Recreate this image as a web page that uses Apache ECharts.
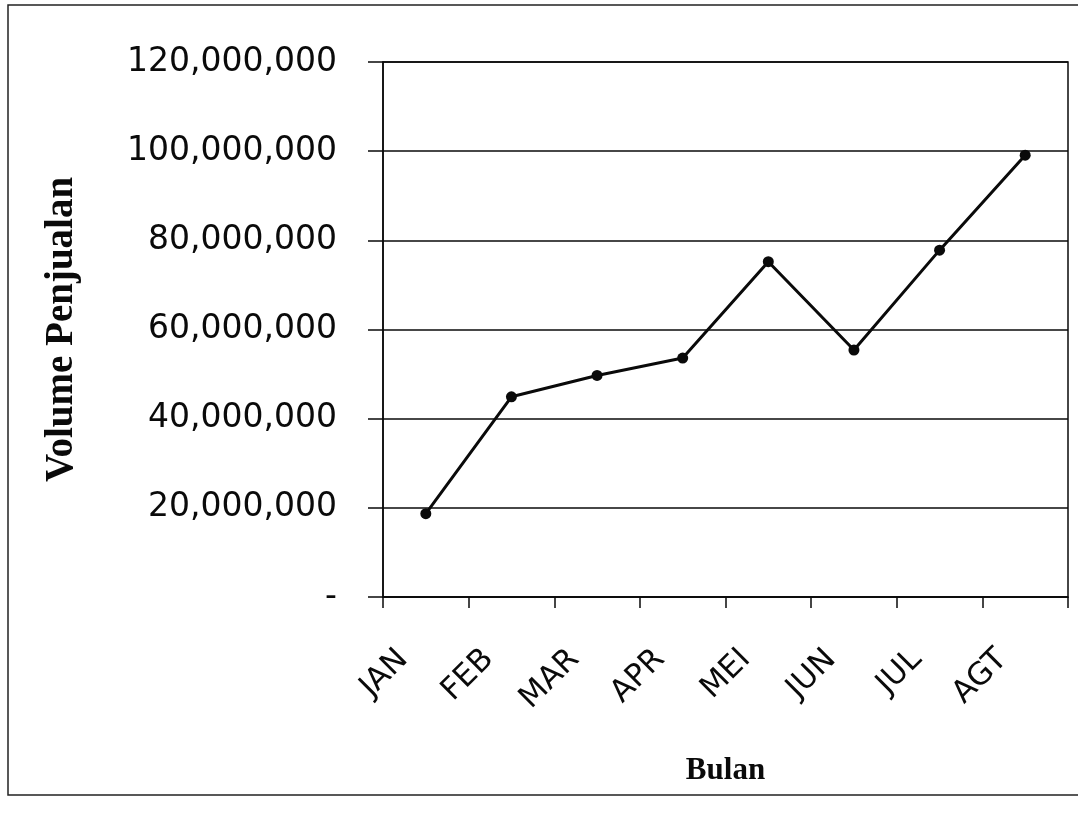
<!DOCTYPE html>
<html>
<head>
<meta charset="utf-8">
<script src="https://cdn.jsdelivr.net/npm/echarts@6/dist/echarts.min.js"></script>
<style>html,body{margin:0;padding:0;background:#fff;}#c{width:1078px;height:818px;}</style>
</head>
<body>
<div id="c"></div>
<script>
const categories = ['JAN', 'FEB', 'MAR', 'APR', 'MEI', 'JUN', 'JUL', 'AGT'];
const volumePenjualan = [18700000, 44900000, 49700000, 53600000, 75200000, 55400000, 77800000, 99100000];
const yTicks = [0, 20000000, 40000000, 60000000, 80000000, 100000000, 120000000];
const xAxisTitle = 'Bulan';
const yAxisTitle = 'Volume Penjualan';

const chart = echarts.init(document.getElementById('c'), null, {renderer: 'canvas'});
const ink = '#0a0a0a';
chart.setOption({
  backgroundColor: '#fff',
  animation: false,
  graphic: [{
    type: 'rect', shape: {x: 8, y: 5, width: 1100, height: 790},
    style: {fill: 'none', stroke: '#222', lineWidth: 1.5}, silent: true, z: -1
  }],
  grid: {left: 383, right: 10, top: 62, bottom: 221, show: true, borderColor: ink, borderWidth: 1.5, backgroundColor: 'transparent'},
  xAxis: {
    type: 'category', data: categories, boundaryGap: true,
    name: xAxisTitle, nameLocation: 'middle', nameGap: 158,
    nameTextStyle: {fontFamily: 'Liberation Serif', fontWeight: 'bold', fontSize: 31, color: ink},
    axisLine: {lineStyle: {color: ink, width: 1.5}},
    axisTick: {show: true, inside: false, length: 11, alignWithLabel: false, lineStyle: {color: ink, width: 1.5}},
    axisLabel: {interval: 0, rotate: 45, margin: 35, padding: [0, 32, 0, 0], fontFamily: 'DejaVu Sans', fontSize: 31, color: ink},
    splitLine: {show: false}
  },
  yAxis: {
    type: 'value', min: yTicks[0], max: yTicks[yTicks.length - 1], interval: yTicks[1] - yTicks[0],
    name: yAxisTitle, nameLocation: 'middle', nameGap: 302, nameRotate: 90,
    nameTextStyle: {fontFamily: 'Liberation Serif', fontWeight: 'bold', fontSize: 39, color: ink},
    axisLine: {show: true, lineStyle: {color: ink, width: 1.5}},
    axisTick: {show: true, inside: false, length: 15, lineStyle: {color: ink, width: 1.5}},
    axisLabel: {margin: 46, fontFamily: 'DejaVu Sans', fontSize: 33, color: ink,
      formatter: v => v === 0 ? '-' : v.toLocaleString('en-US')},
    splitLine: {show: true, lineStyle: {color: ink, width: 1.5}}
  },
  series: [{
    type: 'line', data: volumePenjualan,
    symbol: 'circle', symbolSize: 11,
    lineStyle: {color: ink, width: 3},
    itemStyle: {color: ink}
  }]
});
</script>
</body>
</html>
